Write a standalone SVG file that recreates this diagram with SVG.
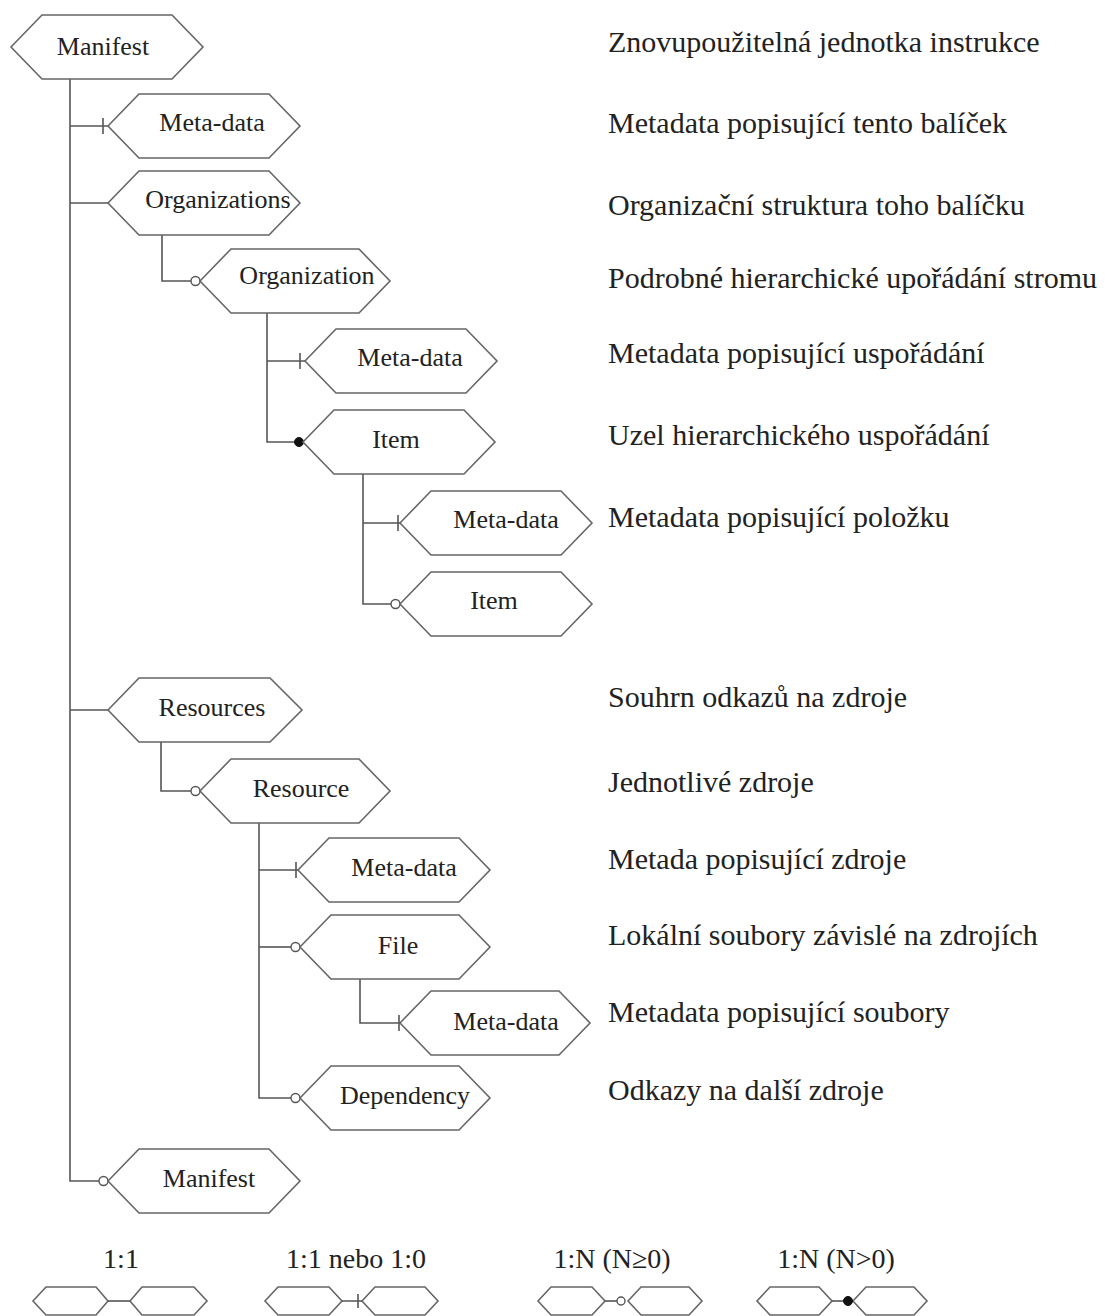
<svg xmlns="http://www.w3.org/2000/svg" width="1107" height="1316" viewBox="0 0 1107 1316">
<style>
.hex{fill:#fff;stroke:#666;stroke-width:1.6}
.con{fill:none;stroke:#555;stroke-width:1.6}
.t{font-family:"Liberation Serif","Times New Roman",serif;font-size:26px;fill:#222;text-anchor:middle}
.lab{font-family:"Liberation Serif","Times New Roman",serif;font-size:30px;fill:#222}
.leg{font-family:"Liberation Serif","Times New Roman",serif;font-size:28px;fill:#222;text-anchor:middle}
.o{fill:#fff;stroke:#555;stroke-width:1.4}
.d{fill:#111;stroke:#111;stroke-width:1}
</style>
<rect width="1107" height="1316" fill="#fff"/>
<g id="connectors">
<path class="con" d="M70,79 V1181 H99"/>
<path class="con" d="M70,126 H108 M103,118 V134"/>
<path class="con" d="M70,203 H108"/>
<path class="con" d="M70,710 H108"/>
<path class="con" d="M162,234 V281 H191"/>
<path class="con" d="M267,313 V442 H303"/>
<path class="con" d="M267,361 H305 M300,353 V369"/>
<path class="con" d="M363,474 V604 H391"/>
<path class="con" d="M363,523 H400 M398,515 V531"/>
<path class="con" d="M161,742 V791 H191"/>
<path class="con" d="M259,823 V1098 H291"/>
<path class="con" d="M259,870 H298 M296,862 V878"/>
<path class="con" d="M259,947 H291"/>
<path class="con" d="M360,979 V1023 H400 M399,1015 V1031"/>
<circle class="o" cx="103.5" cy="1181" r="4.5"/>
<circle class="o" cx="195.5" cy="281" r="4.5"/>
<circle class="d" cx="299" cy="442" r="4.5"/>
<circle class="o" cx="395.5" cy="604" r="4.5"/>
<circle class="o" cx="195.5" cy="791" r="4.5"/>
<circle class="o" cx="295.5" cy="947" r="4.5"/>
<circle class="o" cx="295.5" cy="1098" r="4.5"/>
</g>
<g id="n1"><polygon class="hex" points="11,47 42,15 172,15 203,47 172,79 42,79"/><text class="t" x="103" y="55">Manifest</text></g>
<g id="n2"><polygon class="hex" points="108,126 139,94 269,94 300,126 269,158 139,158"/><text class="t" x="212" y="131">Meta-data</text></g>
<g id="n3"><polygon class="hex" points="108,203 139,171 269,171 300,203 269,235 139,235"/><text class="t" x="218" y="208">Organizations</text></g>
<g id="n4"><polygon class="hex" points="200,281 231,249 359,249 390,281 359,313 231,313"/><text class="t" x="307" y="284">Organization</text></g>
<g id="n5"><polygon class="hex" points="305,361 336,329 466,329 497,361 466,393 336,393"/><text class="t" x="410" y="366">Meta-data</text></g>
<g id="n6"><polygon class="hex" points="303,442 334,410 464,410 495,442 464,474 334,474"/><text class="t" x="396" y="448">Item</text></g>
<g id="n7"><polygon class="hex" points="400,523 431,491 561,491 592,523 561,555 431,555"/><text class="t" x="506" y="528">Meta-data</text></g>
<g id="n8"><polygon class="hex" points="400,604 431,572 561,572 592,604 561,636 431,636"/><text class="t" x="494" y="609">Item</text></g>
<g id="n9"><polygon class="hex" points="108,710 139,678 270,678 302,710 270,742 139,742"/><text class="t" x="212" y="716">Resources</text></g>
<g id="n10"><polygon class="hex" points="200,791 231,759 359,759 390,791 359,823 231,823"/><text class="t" x="301" y="797">Resource</text></g>
<g id="n11"><polygon class="hex" points="298,870 329,838 459,838 490,870 459,902 329,902"/><text class="t" x="404" y="876">Meta-data</text></g>
<g id="n12"><polygon class="hex" points="300,947 331,915 459,915 490,947 459,979 331,979"/><text class="t" x="398" y="954">File</text></g>
<g id="n13"><polygon class="hex" points="400,1023 431,991 559,991 590,1023 559,1055 431,1055"/><text class="t" x="506" y="1030">Meta-data</text></g>
<g id="n14"><polygon class="hex" points="300,1098 331,1066 459,1066 490,1098 459,1130 331,1130"/><text class="t" x="405" y="1104">Dependency</text></g>
<g id="n15"><polygon class="hex" points="108,1181 139,1149 269,1149 300,1181 269,1213 139,1213"/><text class="t" x="209" y="1187">Manifest</text></g>
<g id="labels">
<text class="lab" x="608" y="52">Znovupoužitelná jednotka instrukce</text>
<text class="lab" x="608" y="133">Metadata popisující tento balíček</text>
<text class="lab" x="608" y="215">Organizační struktura toho balíčku</text>
<text class="lab" x="608" y="288">Podrobné hierarchické upořádání stromu</text>
<text class="lab" x="608" y="363">Metadata popisující uspořádání</text>
<text class="lab" x="608" y="445">Uzel hierarchického uspořádání</text>
<text class="lab" x="608" y="527">Metadata popisující položku</text>
<text class="lab" x="608" y="707">Souhrn odkazů na zdroje</text>
<text class="lab" x="608" y="792">Jednotlivé zdroje</text>
<text class="lab" x="608" y="869">Metada popisující zdroje</text>
<text class="lab" x="608" y="945">Lokální soubory závislé na zdrojích</text>
<text class="lab" x="608" y="1022">Metadata popisující soubory</text>
<text class="lab" x="608" y="1100">Odkazy na další zdroje</text>
</g>
<g id="legend">
<text class="leg" x="121" y="1268">1:1</text>
<text class="leg" x="356" y="1268">1:1 nebo 1:0</text>
<text class="leg" x="612" y="1268">1:N (N≥0)</text>
<text class="leg" x="836" y="1268">1:N (N&gt;0)</text>
<polygon class="hex" points="33,1301 46,1287 96,1287 108,1301 96,1315 46,1315"/>
<polygon class="hex" points="130,1301 142,1287 194,1287 207,1301 194,1315 142,1315"/>
<path class="con" d="M108,1301 H130"/>
<polygon class="hex" points="265,1301 278,1287 329,1287 342,1301 329,1315 278,1315"/>
<polygon class="hex" points="362,1301 375,1287 425,1287 438,1301 425,1315 375,1315"/>
<path class="con" d="M342,1301 H362 M358,1294 V1308"/>
<polygon class="hex" points="538,1301 551,1287 592,1287 605,1301 592,1315 551,1315"/>
<polygon class="hex" points="628,1301 641,1287 689,1287 702,1301 689,1315 641,1315"/>
<path class="con" d="M605,1301 H617"/>
<circle class="o" cx="621" cy="1301" r="4"/>
<polygon class="hex" points="757,1301 770,1287 819,1287 832,1301 819,1315 770,1315"/>
<polygon class="hex" points="853,1301 866,1287 914,1287 927,1301 914,1315 866,1315"/>
<path class="con" d="M832,1301 H853"/>
<circle class="d" cx="848" cy="1301" r="4.5"/>
</g>
</svg>
